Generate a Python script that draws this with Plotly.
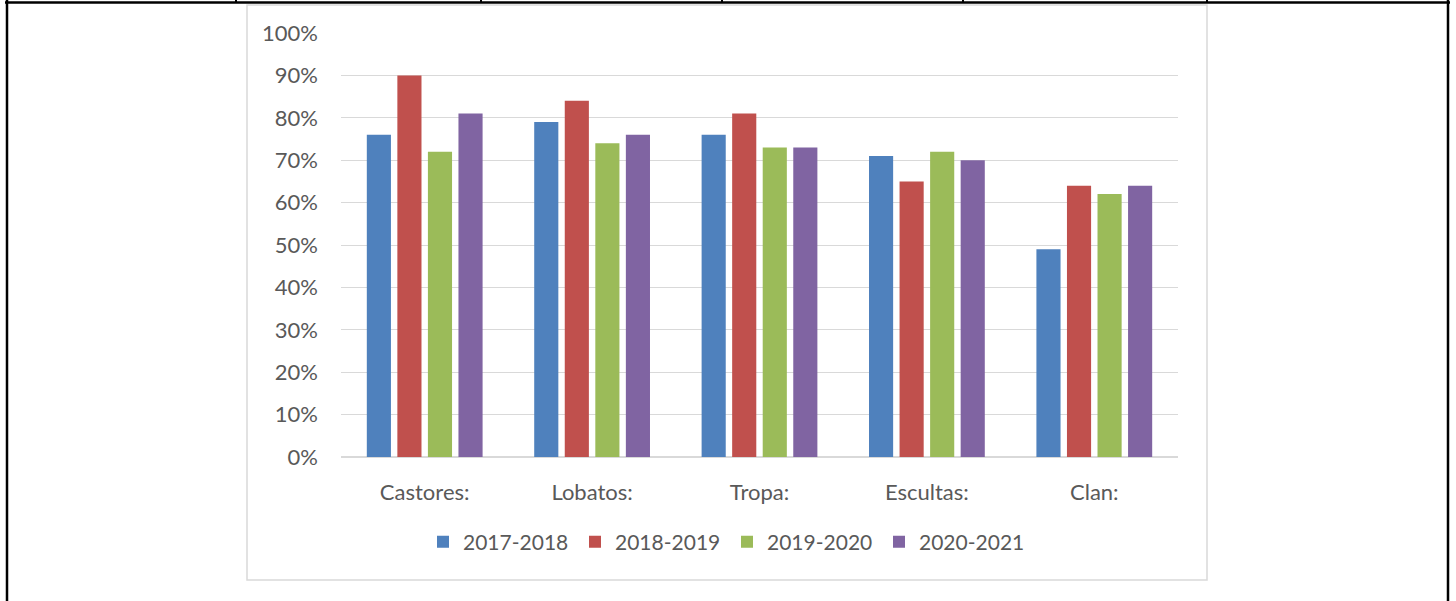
import plotly.graph_objects as go

categories = ["Castores:", "Lobatos:", "Tropa:", "Escultas:", "Clan:"]
series_names = ["2017-2018", "2018-2019", "2019-2020", "2020-2021"]
v_2017_2018 = [76, 79, 76, 71, 49]
v_2018_2019 = [90, 84, 81, 65, 64]
v_2019_2020 = [72, 74, 73, 72, 62]
v_2020_2021 = [81, 76, 73, 70, 64]
y_ticks = [0, 10, 20, 30, 40, 50, 60, 70, 80, 90, 100]
y_tick_labels = ["0%", "10%", "20%", "30%", "40%", "50%", "60%", "70%", "80%", "90%", "100%"]

series_values = [v_2017_2018, v_2018_2019, v_2019_2020, v_2020_2021]
colors = ["#4F81BD", "#C0504D", "#9BBB59", "#8064A2"]

W, H = 1456, 601
L, R, T, B = 341, 1178, 33, 457
FONT = "Lato"
TXT = "#595959"
FS = 22

fig = go.Figure()
for name, vals, col in zip(series_names, series_values, colors):
    fig.add_trace(go.Bar(x=categories, y=vals, name=name,
                         marker=dict(color=col, line=dict(width=0))))

def px2x(px):
    return (px - L) / (R - L)

def py2y(py):
    return (B - py) / (B - T)

shapes = []
# chart frame
shapes.append(dict(type="rect", xref="paper", yref="paper",
                   x0=px2x(247), x1=px2x(1207), y0=py2y(580), y1=py2y(5),
                   line=dict(color="#D9D9D9", width=1.5), layer="below"))
# outer table border
blk = dict(color="black", width=2.5)
shapes.append(dict(type="line", xref="paper", yref="paper",
                   x0=px2x(5), x1=px2x(1450), y0=py2y(2.5), y1=py2y(2.5), line=blk))
shapes.append(dict(type="line", xref="paper", yref="paper",
                   x0=px2x(7), x1=px2x(7), y0=py2y(0), y1=py2y(601), line=blk))
shapes.append(dict(type="line", xref="paper", yref="paper",
                   x0=px2x(1448), x1=px2x(1448), y0=py2y(0), y1=py2y(601), line=blk))
for xv in [236, 481, 722, 963, 1207]:
    shapes.append(dict(type="line", xref="paper", yref="paper",
                       x0=px2x(xv), x1=px2x(xv), y0=py2y(0), y1=py2y(3),
                       line=dict(color="black", width=2)))

fig.update_layout(
    width=W, height=H,
    margin=dict(l=L, r=W - R, t=T, b=H - B, pad=0),
    paper_bgcolor="white", plot_bgcolor="white",
    barmode="group", bargap=0.27, bargroupgap=0.21,
    font=dict(family=FONT, size=FS, color=TXT),
    showlegend=True,
    legend=dict(orientation="h", x=px2x(727), xanchor="center",
                y=py2y(542), yanchor="middle",
                font=dict(family=FONT, size=21, color=TXT),
                entrywidth=107, itemwidth=30, bgcolor="rgba(0,0,0,0)"),
    shapes=shapes,
    xaxis=dict(showgrid=False, showline=False, zeroline=False,
               ticks="", ticklabelstandoff=20,
               tickfont=dict(family=FONT, size=FS, color=TXT)),
    yaxis=dict(range=[0, 100], tickmode="array", tickvals=y_ticks,
               ticktext=y_tick_labels,
               showgrid=True, gridcolor="#D9D9D9", gridwidth=1,
               zeroline=True, zerolinecolor="#D9D9D9", zerolinewidth=1.5,
               showline=False, ticks="", ticklabelstandoff=22,
               tickfont=dict(family=FONT, size=FS, color=TXT)),
)

fig.write_html("out.html", config={"displayModeBar": False},
               post_script="document.body.style.margin='0px';document.body.style.overflow='hidden';")
